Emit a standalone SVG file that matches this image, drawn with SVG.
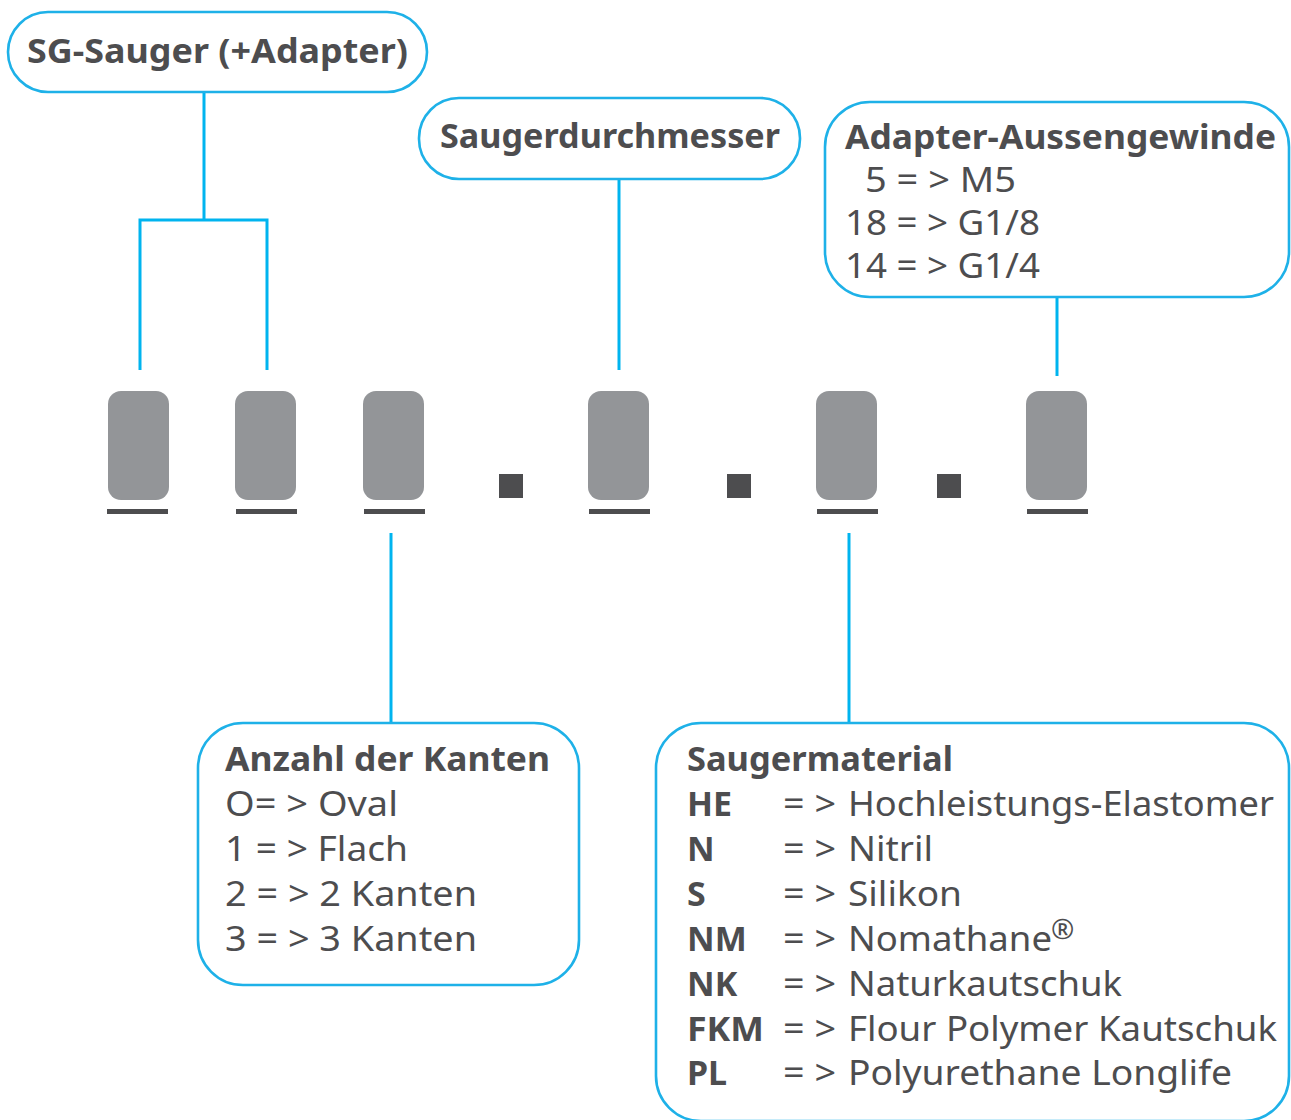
<svg xmlns="http://www.w3.org/2000/svg" width="1291" height="1120" viewBox="0 0 1291 1120">
<style>
.box{fill:#fff;stroke:#1eb1e8;stroke-width:2.6}
.conn{fill:none;stroke:#00b4ef;stroke-width:3}
.t{font-family:"Noto Sans","Open Sans","Liberation Sans",sans-serif;font-size:34px;fill:#4d4d4f}
.b{font-weight:bold}
.slot{fill:#939598}
.ul{fill:#4d4d4f}
</style>
<rect width="1291" height="1120" fill="#fff"/>
<g id="connectors">
<path class="conn" d="M204 93V220M140 370V220H267V370"/>
<path class="conn" d="M619 180V370"/>
<path class="conn" d="M1057 297V376"/>
<path class="conn" d="M391 533V723"/>
<path class="conn" d="M849 533V723"/>
</g>
<g id="node-sg-sauger">
<rect class="box" x="8" y="12" width="419" height="80" rx="40"/>
<text class="t b" x="27" y="63" textLength="381" lengthAdjust="spacingAndGlyphs">SG-Sauger (+Adapter)</text>
</g>
<g id="node-saugerdurchmesser">
<rect class="box" x="419" y="98" width="381" height="81" rx="40"/>
<text class="t b" x="440" y="148" textLength="340" lengthAdjust="spacingAndGlyphs">Saugerdurchmesser</text>
</g>
<g id="node-adapter">
<rect class="box" x="825" y="102" width="464" height="195" rx="45"/>
<text class="t b" x="845" y="149" textLength="431" lengthAdjust="spacingAndGlyphs">Adapter-Aussengewinde</text>
<text class="t" x="865" y="192" textLength="151" lengthAdjust="spacingAndGlyphs">5 = &gt; M5</text>
<text class="t" x="845" y="235" textLength="195" lengthAdjust="spacingAndGlyphs">18 = &gt; G1/8</text>
<text class="t" x="845" y="278" textLength="195" lengthAdjust="spacingAndGlyphs">14 = &gt; G1/4</text>
</g>
<g id="code">
<rect class="slot" x="108" y="391" width="61" height="109" rx="13"/>
<rect class="ul" x="107" y="509" width="61" height="5"/>
<rect class="slot" x="235" y="391" width="61" height="109" rx="13"/>
<rect class="ul" x="236" y="509" width="61" height="5"/>
<rect class="slot" x="363" y="391" width="61" height="109" rx="13"/>
<rect class="ul" x="364" y="509" width="61" height="5"/>
<rect class="ul" x="499" y="474" width="24" height="24"/>
<rect class="slot" x="588" y="391" width="61" height="109" rx="13"/>
<rect class="ul" x="589" y="509" width="61" height="5"/>
<rect class="ul" x="727" y="474" width="24" height="24"/>
<rect class="slot" x="816" y="391" width="61" height="109" rx="13"/>
<rect class="ul" x="817" y="509" width="61" height="5"/>
<rect class="ul" x="937" y="474" width="24" height="24"/>
<rect class="slot" x="1026" y="391" width="61" height="109" rx="13"/>
<rect class="ul" x="1027" y="509" width="61" height="5"/>
</g>
<g id="node-kanten">
<rect class="box" x="198" y="723" width="381" height="262" rx="45"/>
<text class="t b" x="225" y="771" textLength="325" lengthAdjust="spacingAndGlyphs">Anzahl der Kanten</text>
<text class="t" x="225" y="816" textLength="173" lengthAdjust="spacingAndGlyphs">O= &gt; Oval</text>
<text class="t" x="225" y="861" textLength="183" lengthAdjust="spacingAndGlyphs">1 = &gt; Flach</text>
<text class="t" x="225" y="906" textLength="252" lengthAdjust="spacingAndGlyphs">2 = &gt; 2 Kanten</text>
<text class="t" x="225" y="951" textLength="252" lengthAdjust="spacingAndGlyphs">3 = &gt; 3 Kanten</text>
</g>
<g id="node-material">
<rect class="box" x="656" y="723" width="633" height="398" rx="45"/>
<text class="t b" x="687" y="771" textLength="266" lengthAdjust="spacingAndGlyphs">Saugermaterial</text>
<text class="t b" x="687" y="816">HE</text>
<text class="t" x="783" y="816" textLength="53" lengthAdjust="spacingAndGlyphs">= &gt;</text>
<text class="t" x="848" y="816" textLength="426" lengthAdjust="spacingAndGlyphs">Hochleistungs-Elastomer</text>
<text class="t b" x="687" y="861">N</text>
<text class="t" x="783" y="861" textLength="53" lengthAdjust="spacingAndGlyphs">= &gt;</text>
<text class="t" x="848" y="861" textLength="85" lengthAdjust="spacingAndGlyphs">Nitril</text>
<text class="t b" x="687" y="906">S</text>
<text class="t" x="783" y="906" textLength="53" lengthAdjust="spacingAndGlyphs">= &gt;</text>
<text class="t" x="848" y="906" textLength="114" lengthAdjust="spacingAndGlyphs">Silikon</text>
<text class="t b" x="687" y="951">NM</text>
<text class="t" x="783" y="951" textLength="53" lengthAdjust="spacingAndGlyphs">= &gt;</text>
<text class="t" x="848" y="951" textLength="204" lengthAdjust="spacingAndGlyphs">Nomathane</text>
<text class="t" x="1051" y="939" style="font-size:28px">®</text>
<text class="t b" x="687" y="996">NK</text>
<text class="t" x="783" y="996" textLength="53" lengthAdjust="spacingAndGlyphs">= &gt;</text>
<text class="t" x="848" y="996" textLength="274" lengthAdjust="spacingAndGlyphs">Naturkautschuk</text>
<text class="t b" x="687" y="1041" textLength="77" lengthAdjust="spacingAndGlyphs">FKM</text>
<text class="t" x="783" y="1041" textLength="53" lengthAdjust="spacingAndGlyphs">= &gt;</text>
<text class="t" x="848" y="1041" textLength="429" lengthAdjust="spacingAndGlyphs">Flour Polymer Kautschuk</text>
<text class="t b" x="687" y="1085">PL</text>
<text class="t" x="783" y="1085" textLength="53" lengthAdjust="spacingAndGlyphs">= &gt;</text>
<text class="t" x="848" y="1085" textLength="384" lengthAdjust="spacingAndGlyphs">Polyurethane Longlife</text>
</g>
</svg>
